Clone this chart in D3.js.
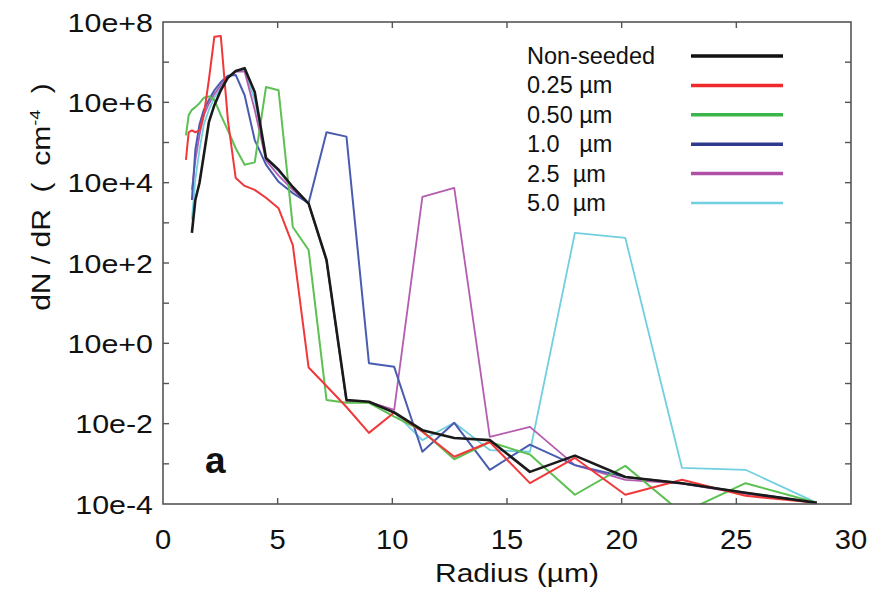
<!DOCTYPE html>
<html lang="en">
<head>
    <meta charset="UTF-8">
    <title>dN/dR vs Radius</title>
    <style>
        body { margin: 0; background: #fff; }
        text { font-family: "Liberation Sans", Arial, sans-serif; fill: #111; }
    </style>
</head>
<body>
    <div id="chart"></div>

    <script src="https://d3js.org/d3.v7.min.js"></script>
    <script>
        // bin radii (um)
        const radii = [1.00, 1.12, 1.26, 1.41, 1.59, 1.78, 2.00, 2.24, 2.52, 2.83,
                       3.17, 3.56, 4.00, 4.49, 5.04, 5.66, 6.35, 7.13, 8.00, 8.98,
                       10.08, 11.31, 12.70, 14.25, 16.00, 17.96, 20.16, 22.63, 25.40, 28.51];

        const nonSeeded = [null, null, 5.6e2, 3.7e3, 9.8e3, 4.9e4, 3.2e5, 8.5e5, 2.0e6, 4.1e6,
                           6.0e6, 7.1e6, 1.8e6, 4.1e4, 2.1e4, 7.8e3, 3.0e3, 1.2e2, 3.9e-2, 3.5e-2,
                           1.9e-2, 6.9e-3, 4.4e-3, 3.9e-3, 6.3e-4, 1.6e-3, 4.7e-4, 3.3e-4, 1.9e-4, 1.07e-4];
        const seed025 = [3.7e4, 1.8e5, 2.0e5, 1.8e5, 2.0e5, 4.8e5, 3.6e6, 4.3e7, 4.5e7, 3.6e5,
                         1.3e4, 8.3e3, 6.6e3, 4.2e3, 2.3e3, 2.8e2, 0.25, 8.7e-2, 2.6e-2, 5.9e-3,
                         1.9e-2, 6.3e-3, 1.5e-3, 3.5e-3, 3.3e-4, 1.4e-3, 1.7e-4, 4.0e-4, 1.6e-4, 1.07e-4];
        const seed050 = [1.5e5, 4.8e5, 6.5e5, 7.6e5, 9.5e5, 1.3e6, 1.4e6, 1.15e6, 4.8e5, 2.0e5,
                         7.2e4, 2.8e4, 3.2e4, 2.4e6, 2.0e6, 7.9e2, 2.1e2, 3.9e-2, 3.3e-2, 3.3e-2,
                         1.5e-2, 6.6e-3, 1.3e-3, 3.5e-3, 1.7e-3, 1.7e-4, 8.9e-4, 6.0e-5, 3.3e-4, 1.07e-4];
        const seed10 = [null, null, 3.7e3, 6.5e4, 2.8e5, 6.5e5, 1.15e6, 2.0e6, 3.2e6, 4.6e6,
                        4.8e6, 1.5e6, 1.15e5, 2.8e4, 1.05e4, 5.5e3, 3.1e3, 1.8e5, 1.4e5, 0.32,
                        0.26, 2.0e-3, 1.05e-2, 7.1e-4, 3.0e-3, 9.3e-4, 4.7e-4, 3.3e-4, 1.9e-4, 1.07e-4];
        const seed25 = [null, null, 6.6e3, 3.6e4, 1.5e5, 4.8e5, 9.1e5, 1.6e6, 2.7e6, 4.3e6,
                        5.8e6, 5.8e6, 6.5e5, 3.6e4, 1.5e4, 6.6e3, 3.0e3, 1.1e2, 3.5e-2, 3.5e-2,
                        2.2e-2, 4.4e3, 7.4e3, 4.7e-3, 8.3e-3, 9.3e-4, 4.0e-4, 3.2e-4, 1.8e-4, 1.07e-4];
        const seed50 = [null, null, 1.2e3, 1.2e4, 6.5e4, 2.8e5, 6.5e5, 1.3e6, 2.3e6, 4.1e6,
                        5.8e6, 6.3e6, 1.15e6, 4.1e4, 1.9e4, 7.4e3, 3.0e3, 1.2e2, 3.9e-2, 3.5e-2,
                        1.9e-2, 3.9e-3, 1.05e-2, 2.2e-3, 2.0e-3, 5.6e2, 4.2e2, 7.9e-4, 7.1e-4, 1.07e-4];

        const legendLabels = ["Non-seeded", "0.25 \u00b5m", "0.50 \u00b5m", "1.0   \u00b5m", "2.5  \u00b5m", "5.0  \u00b5m"];
        const xTicks = [0, 5, 10, 15, 20, 25, 30];
        const yTickLabels = ["10e-4", "10e-2", "10e+0", "10e+2", "10e+4", "10e+6", "10e+8"];

        const series = [
            { name: legendLabels[0], values: nonSeeded, color: "#111111", plotColor: "#1a1a1a", width: 2.6 },
            { name: legendLabels[1], values: seed025, color: "#ee2a2a", plotColor: "#f0383a", width: 2 },
            { name: legendLabels[2], values: seed050, color: "#3cb54a", plotColor: "#5cc052", width: 2 },
            { name: legendLabels[3], values: seed10, color: "#2e3a8c", plotColor: "#4a5cb0", width: 2 },
            { name: legendLabels[4], values: seed25, color: "#b04fa6", plotColor: "#b55cb0", width: 1.8 },
            { name: legendLabels[5], values: seed50, color: "#70d0e0", plotColor: "#72cfe0", width: 1.8 }
        ];

        const width = 879, height = 596;
        const m = { left: 163, right: 851, top: 22, bottom: 504 };

        const svg = d3.select("#chart").append("svg")
            .attr("width", width)
            .attr("height", height);

        const x = d3.scaleLinear().domain([0, 30]).range([m.left, m.right]);
        const y = d3.scaleLog().domain([1e-4, 1e8]).range([m.bottom, m.top]);

        svg.append("clipPath").attr("id", "plotClip")
            .append("rect")
            .attr("x", m.left).attr("y", m.top)
            .attr("width", m.right - m.left).attr("height", m.bottom - m.top);

        // lines, drawn back to front
        const line = d3.line()
            .defined(d => d.v !== null)
            .x(d => x(d.r))
            .y(d => y(d.v));

        const drawOrder = [5, 4, 3, 2, 1, 0];
        const plot = svg.append("g").attr("clip-path", "url(#plotClip)");
        drawOrder.forEach(i => {
            const s = series[i];
            plot.append("path")
                .datum(radii.map((r, k) => ({ r: r, v: s.values[k] })))
                .attr("fill", "none")
                .attr("stroke", s.plotColor)
                .attr("stroke-width", s.width)
                .attr("stroke-linejoin", "round")
                .attr("d", line);
        });

        // frame + inward ticks
        const axisColor = "#555";
        svg.append("rect")
            .attr("x", m.left).attr("y", m.top)
            .attr("width", m.right - m.left).attr("height", m.bottom - m.top)
            .attr("fill", "none")
            .attr("stroke", axisColor)
            .attr("stroke-width", 1.6);

        const tickLen = 6;
        const ticks = svg.append("g").attr("stroke", axisColor).attr("stroke-width", 1.4);
        xTicks.slice(1, -1).forEach(t => {
            ticks.append("line").attr("x1", x(t)).attr("x2", x(t)).attr("y1", m.bottom).attr("y2", m.bottom - tickLen);
            ticks.append("line").attr("x1", x(t)).attr("x2", x(t)).attr("y1", m.top).attr("y2", m.top + tickLen);
        });
        const decades = d3.range(-3, 8).map(e => Math.pow(10, e));
        decades.forEach(v => {
            ticks.append("line").attr("x1", m.left).attr("x2", m.left + tickLen).attr("y1", y(v)).attr("y2", y(v));
            ticks.append("line").attr("x1", m.right).attr("x2", m.right - tickLen).attr("y1", y(v)).attr("y2", y(v));
        });

        // tick labels (the source figure is slightly stretched horizontally)
        xTicks.forEach(t => {
            svg.append("text")
                .attr("transform", `translate(${x(t)},549) scale(1.08,1)`)
                .attr("text-anchor", "middle")
                .style("font-size", "27px")
                .text(t);
        });

        yTickLabels.forEach((lab, i) => {
            const v = Math.pow(10, -4 + 2 * i);
            svg.append("text")
                .attr("transform", `translate(153,${y(v) + 9.5}) scale(1.17,1)`)
                .attr("text-anchor", "end")
                .style("font-size", "26px")
                .text(lab);
        });

        // axis titles
        svg.append("text")
            .attr("transform", "translate(517,582) scale(1.2,1)")
            .attr("text-anchor", "middle")
            .style("font-size", "25px")
            .text("Radius (\u00b5m)");

        const yTitle = svg.append("text")
            .attr("transform", "translate(50,197) rotate(-90) scale(1.2,1)")
            .attr("text-anchor", "middle")
            .style("font-size", "25px")
            .style("white-space", "pre");
        yTitle.append("tspan").text("dN / dR  (  cm");
        yTitle.append("tspan").attr("dy", -10).style("font-size", "15px").text("-4");
        yTitle.append("tspan").attr("dy", 10).text("  )");

        // panel letter
        svg.append("text")
            .attr("x", 205)
            .attr("y", 473)
            .style("font-size", "37px")
            .style("font-weight", "bold")
            .text("a");

        // legend
        const legend = svg.append("g").attr("class", "legend");
        series.forEach((s, i) => {
            const ly = 56 + i * 29.4;
            legend.append("text")
                .attr("x", 527)
                .attr("y", ly + 8)
                .style("font-size", "23.5px")
                .style("white-space", "pre")
                .text(s.name);
            legend.append("line")
                .attr("x1", 691).attr("x2", 783)
                .attr("y1", ly).attr("y2", ly)
                .attr("stroke", s.color)
                .attr("stroke-width", i === 5 ? 2.5 : 3.5);
        });
    </script>
</body>
</html>
